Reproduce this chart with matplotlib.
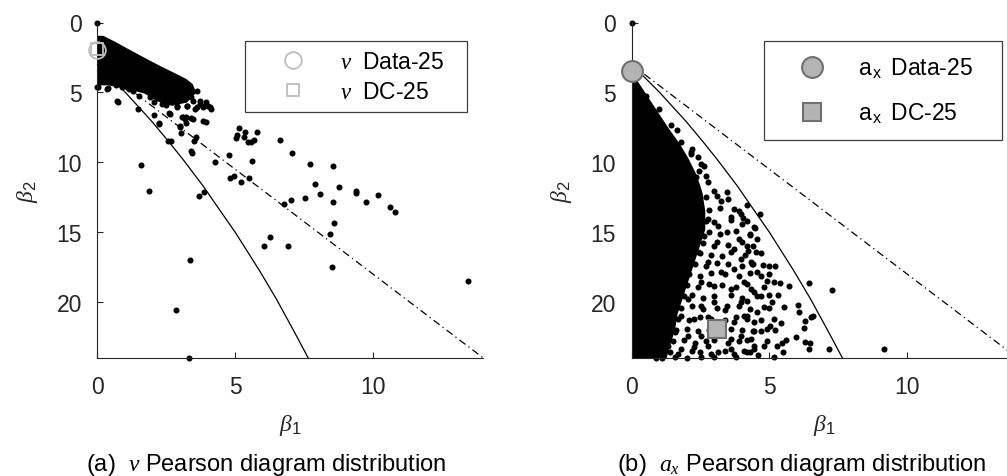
import numpy as np
import matplotlib
matplotlib.use("Agg")
import matplotlib.pyplot as plt

plt.rcParams["font.family"] = ["Liberation Sans", "DejaVu Sans"]
plt.rcParams["mathtext.fontset"] = "custom"
plt.rcParams["mathtext.rm"] = "Liberation Sans"
plt.rcParams["mathtext.sf"] = "Liberation Sans"
plt.rcParams["mathtext.it"] = "Liberation Serif:italic"
plt.rcParams["mathtext.bf"] = "Liberation Sans:bold"

# ---------------------------------------------------------------- data
# reference lines on the Pearson diagram
gamma_b1 = [0.0, 14.0]
gamma_b2 = [3.0, 24.0]
typev_b1 = [0.0, 0.61, 1.0, 1.44, 1.98, 2.61, 3.11, 3.84, 4.4, 5.0, 5.45, 5.88, 6.5, 7.11, 7.65]
typev_b2 = [3.0, 4.19, 4.96, 5.91, 7.08, 8.57, 9.8, 11.7, 13.3, 15.0, 16.4, 17.74, 19.8, 22.0, 24.0]

# (a) nu: outline of the saturated core, then the separate points (beta1, beta2)
nu_core_b1 = [0.0, 0.2, 0.64, 1.2, 1.75, 2.3, 2.7, 3.18, 3.4, 3.5, 3.2, 2.7, 2.2, 1.75, 1.0, 0.4, 0.0]
nu_core_b2 = [1.1, 1.1, 1.54, 2.15, 2.73, 3.3, 3.68, 4.16, 4.5, 5.0, 5.6, 5.8, 5.5, 4.95, 4.55, 4.35, 4.35]
nu_pts = [
    (0.0, 0.0), (1.73, 2.97), (1.75, 3.09), (2.58, 3.95), (2.95, 4.3), (0.0, 4.6),
    (0.04, 4.64), (0.34, 4.76), (0.37, 4.72), (0.67, 4.47), (0.74, 5.7), (0.70, 5.6),
    (1.06, 4.64), (1.15, 4.75), (1.5, 5.25), (1.49, 6.19), (2.04, 5.71), (2.05, 6.6),
    (2.22, 7.26), (2.24, 7.2), (2.34, 5.83), (2.55, 8.45), (2.66, 8.45), (2.62, 6.55),
    (2.6, 6.5), (2.7, 5.71), (2.88, 6.07), (2.9, 5.95), (2.99, 7.5), (3.02, 7.9),
    (3.0, 7.38), (3.06, 6.78), (3.1, 6.77), (3.2, 6.77), (3.21, 7.2), (3.18, 5.47),
    (3.18, 6.9), (3.24, 6.0), (3.27, 5.95), (3.3, 4.64), (3.32, 4.6), (3.39, 6.83),
    (3.39, 9.2), (3.42, 9.33), (3.48, 5.59), (3.48, 6.9), (3.5, 8.45), (3.54, 6.19),
    (3.57, 8.2), (3.63, 6.05), (3.72, 5.83), (3.74, 5.6), (3.84, 6.07), (3.84, 7.02),
    (3.86, 5.95), (3.93, 7.13), (3.93, 5.7), (4.02, 5.95), (4.1, 6.05), (4.14, 6.19),
    (3.1, 5.1), (3.4, 5.3), (2.5, 5.9), (1.9, 5.3), (1.3, 4.9), (0.9, 4.6), (3.6, 4.9),
    (1.58, 10.2), (1.87, 12.05), (3.68, 12.4), (3.86, 12.15), (4.26, 9.99), (4.77, 9.46),
    (4.81, 11.1), (4.95, 10.97), (5.2, 11.4), (5.02, 8.27), (5.08, 8.05), (5.13, 7.55),
    (5.34, 7.84), (5.31, 8.2), (5.45, 8.56), (5.56, 8.56), (5.7, 8.4), (5.78, 7.85),
    (5.6, 9.9), (5.52, 11.1), (6.61, 8.4), (7.05, 9.33), (7.7, 10.1), (7.88, 11.55),
    (8.07, 12.27), (8.54, 10.3), (8.54, 12.87), (7.52, 12.57), (7.01, 12.7), (6.76, 12.98),
    (8.57, 14.34), (8.76, 11.75), (9.37, 12.05), (9.4, 12.2), (9.73, 12.85), (10.17, 12.33),
    (10.6, 13.2), (10.78, 13.53), (8.43, 15.1), (6.26, 15.35), (6.04, 15.98), (6.9, 15.98),
    (8.5, 17.5), (13.46, 18.5), (3.35, 17.0), (2.87, 20.6), (3.32, 24.0),
]
nu_data25 = (0.0, 2.0)
nu_dc25 = (0.0, 1.9)

# (b) a_x: outline of the saturated core, then the separate points (beta1, beta2)
ax_core_b1 = [0.0, 0.15, 0.5, 0.9, 1.3, 1.7, 2.0, 2.3, 2.5, 2.6, 2.6, 2.4, 2.2, 2.0,
              1.8, 1.6, 1.5, 1.3, 1.2, 0.0]
ax_core_b2 = [4.2, 4.25, 5.3, 6.5, 7.7, 8.8, 9.8, 11.0, 12.2, 13.5, 14.8, 16.0, 17.2, 18.4,
              19.6, 20.8, 22.0, 23.2, 24.0, 24.0]
ax_pts = [
    (0.0, 0.0), (0.52, 5.23), (1.0, 6.2), (1.45, 7.3), (1.65, 7.69), (1.8, 8.57),
    (2.16, 9.27), (2.4, 9.6), (2.63, 10.24), (2.2, 9.05), (2.45, 10.6), (2.7, 11.0),
    (2.16, 9.41), (2.52, 10.12), (2.34, 11.08), (2.76, 11.43), (3.0, 12.03), (3.48, 12.15),
    (3.24, 12.75), (3.72, 13.34), (3.6, 13.94), (3.96, 13.7), (4.2, 14.17), (4.44, 14.65),
    (4.56, 15.48), (4.2, 15.96), (3.9, 15.48), (3.72, 16.2), (3.48, 15.0), (3.12, 14.53),
    (2.76, 14.06), (2.64, 15.25), (3.0, 15.96), (3.3, 16.68), (3.96, 16.92), (4.32, 17.16),
    (3.72, 17.63), (3.24, 17.87), (2.76, 17.16), (2.4, 16.44), (2.22, 15.72), (2.04, 17.63),
    (2.52, 18.59), (3.0, 18.83), (3.6, 19.06), (4.08, 18.59), (4.44, 19.3), (3.96, 20.02),
    (3.48, 20.26), (3.0, 20.02), (2.52, 20.26), (2.04, 19.78), (1.56, 19.3), (1.32, 20.49),
    (1.8, 20.97), (2.28, 21.21), (2.76, 21.09), (3.72, 21.45), (4.2, 20.97), (4.44, 22.04),
    (3.96, 22.4), (3.6, 22.64), (2.52, 22.4), (2.04, 22.4), (1.56, 22.16), (1.08, 21.92),
    (0.84, 22.88), (1.32, 23.12), (1.8, 23.36), (2.28, 23.24), (2.76, 23.12), (3.12, 23.6),
    (3.6, 23.36), (4.08, 23.48), (4.44, 23.12), (2.52, 23.96), (1.56, 23.96),
    (4.2, 13.06), (4.66, 13.7), (4.06, 13.99), (4.48, 14.7), (4.3, 15.18), (4.42, 15.96),
    (4.5, 16.39), (4.23, 16.32), (4.78, 17.32), (4.98, 17.44), (5.19, 17.39), (4.38, 17.27),
    (4.56, 17.82), (4.68, 18.11), (4.92, 18.47), (5.17, 18.59), (5.38, 18.66), (5.71, 18.87),
    (6.43, 18.63), (7.29, 19.11), (4.32, 19.06), (4.56, 19.54), (4.98, 19.49), (5.1, 20.02),
    (4.8, 20.37), (4.56, 20.73), (4.2, 19.9), (5.52, 20.37), (6.03, 20.21), (6.07, 20.73),
    (5.41, 21.5), (5.17, 21.21), (4.92, 21.92), (4.68, 22.04), (5.04, 21.69), (6.31, 21.33),
    (6.51, 21.04), (6.58, 20.97), (6.27, 21.85), (5.95, 22.52), (6.31, 22.88), (6.49, 22.93),
    (6.43, 23.35), (7.18, 23.35), (9.15, 23.35), (5.59, 22.69), (5.29, 23.12), (5.47, 22.93),
    (5.17, 23.95), (4.8, 23.12), (4.44, 23.35), (4.2, 23.59), (4.32, 22.64), (4.44, 21.45),
    (4.08, 20.97),
    (2.7, 12.5), (3.1, 12.4), (3.5, 12.6), (2.8, 13.4), (3.2, 13.3), (3.9, 13.5),
    (2.7, 14.2), (3.0, 14.3), (3.6, 14.1), (4.0, 14.4), (2.8, 15.0), (3.2, 15.1),
    (3.8, 14.9), (4.3, 15.1), (2.6, 15.8), (3.1, 15.7), (3.5, 15.9), (4.0, 15.7),
    (2.5, 16.5), (2.9, 16.6), (3.6, 16.4), (4.1, 16.6), (4.7, 16.5), (2.3, 17.3),
    (2.7, 17.4), (3.1, 17.2), (3.5, 17.3), (4.0, 17.4), (4.4, 17.3), (2.1, 18.0),
    (2.5, 18.1), (2.9, 17.9), (3.4, 18.0), (3.9, 18.1), (4.3, 17.9), (5.0, 18.0),
    (2.0, 18.8), (2.4, 18.9), (2.8, 18.7), (3.3, 18.8), (3.8, 18.9), (4.2, 18.7),
    (4.8, 18.9), (1.9, 19.6), (2.2, 19.5), (2.6, 19.7), (3.0, 19.6), (3.6, 19.5),
    (4.0, 19.7), (4.7, 19.6), (5.3, 19.5), (1.8, 20.4), (2.2, 20.3), (2.6, 20.5),
    (3.1, 20.4), (3.4, 20.6), (3.9, 20.3), (4.3, 20.5), (5.0, 20.4), (1.7, 21.2),
    (2.1, 21.3), (2.5, 21.1), (2.9, 21.2), (3.4, 21.3), (3.8, 21.1), (4.2, 21.2),
    (4.7, 21.3), (1.6, 22.0), (2.0, 21.9), (2.4, 22.1), (2.8, 22.0), (3.2, 22.1),
    (3.6, 21.9), (4.0, 22.0), (4.4, 22.1), (5.2, 22.0), (1.5, 22.8), (1.9, 22.7),
    (2.3, 22.9), (2.7, 22.8), (3.0, 22.7), (3.5, 22.9), (3.9, 22.8), (4.2, 22.7),
    (4.9, 22.8), (1.4, 23.6), (1.7, 23.7), (2.2, 23.5), (2.5, 23.6), (2.9, 23.7),
    (3.4, 23.5), (3.7, 23.7), (4.3, 23.6), (4.6, 23.8), (5.5, 23.6), (1.1, 24.0),
    (2.0, 24.0), (3.0, 23.95), (3.8, 23.95), (0.9, 24.0),
]
ax_data25 = (0.0, 3.45)
ax_dc25 = (3.09, 21.9)

# ---------------------------------------------------------------- figure
W, H = 1007, 477
fig = plt.figure(figsize=(W / 100, H / 100), dpi=100)
ax_a = fig.add_axes([97.3 / W, 118 / H, 386 / W, 335.5 / H])
ax_b = fig.add_axes([631.5 / W, 118 / H, 386 / W, 335.5 / H])

axis_col = "#262626"
dot = dict(s=19, c="k", linewidths=0, clip_on=False, zorder=2)


def pearson_axes(a, core_b1, core_b2, pts):
    pb1, pb2 = np.array(pts).T
    a.fill(core_b1, core_b2, color="k", lw=3, joinstyle="round", zorder=2)
    a.scatter(pb1, pb2, **dot)
    a.plot(typev_b1, typev_b2, "-", color="k", lw=0.9, zorder=3)
    a.plot(gamma_b1, gamma_b2, color="k", lw=0.9, dashes=(6, 3, 1, 3), zorder=3)
    a.set_xlim(0, 14)
    a.set_ylim(24, 0)
    a.set_xticks([0, 5, 10])
    a.set_yticks([0, 5, 10, 15, 20])
    for s in ("top", "right"):
        a.spines[s].set_visible(False)
    for s in ("left", "bottom"):
        a.spines[s].set_color(axis_col)
        a.spines[s].set_linewidth(0.8)
    a.tick_params(direction="in", length=4, width=0.8, color=axis_col,
                  labelsize=16.5, labelcolor=axis_col)
    a.tick_params(axis="y", pad=11)
    a.tick_params(axis="x", pad=12)
    a.set_xlabel(r"$\beta_\mathrm{1}$", fontsize=17, color=axis_col, labelpad=10)
    a.set_ylabel(r"$\beta_\mathrm{2}$", fontsize=17, color=axis_col, labelpad=12)


pearson_axes(ax_a, nu_core_b1, nu_core_b2, nu_pts)
pearson_axes(ax_b, ax_core_b1, ax_core_b2, ax_pts)

# sample moments of the 25-sample sets
ax_a.plot(*nu_data25, "o", ms=12, mfc="none", mec="#bdbdbd", mew=1.3,
          clip_on=False, zorder=5, label=r"$\nu\ $ Data-25   ")
ax_a.plot(*nu_dc25, "s", ms=9, mfc="none", mec="#bdbdbd", mew=1.3,
          clip_on=False, zorder=5, label=r"$\nu\ $ DC-25")
ax_b.plot(*ax_data25, "o", ms=15, mfc="#b4b4b4", mec="#707070", mew=1.5,
          clip_on=False, zorder=5, label=r"$\mathrm{a}_{\,\mathrm{x}}\,$ Data-25   ")
ax_b.plot(*ax_dc25, "s", ms=12.5, mfc="#b4b4b4", mec="#707070", mew=1.5,
          clip_on=False, zorder=5, label=r"$\mathrm{a}_{\,\mathrm{x}}\,$ DC-25")

legend_kw = dict(loc="upper right", bbox_to_anchor=(0.959, 0.945), fontsize=16.5,
                 fancybox=False, framealpha=1, edgecolor="#404040", borderaxespad=0)
leg_a = ax_a.legend(borderpad=0.4, handlelength=3.39, handletextpad=0.36,
                    labelspacing=0.3, **legend_kw)
leg_b = ax_b.legend(borderpad=0.65, handlelength=2.89, handletextpad=0.57,
                    labelspacing=0.9, **legend_kw)
for leg in (leg_a, leg_b):
    leg.get_frame().set_linewidth(0.9)

fig.text(266.5 / W, 1 - 465 / H, r"(a)  $\nu$ Pearson diagram distribution",
         ha="center", va="center", fontsize=17, color="k")
fig.text(802 / W, 1 - 465 / H, r"(b)  $a_x$ Pearson diagram distribution",
         ha="center", va="center", fontsize=17, color="k")

fig.savefig("out.png", dpi=100)
